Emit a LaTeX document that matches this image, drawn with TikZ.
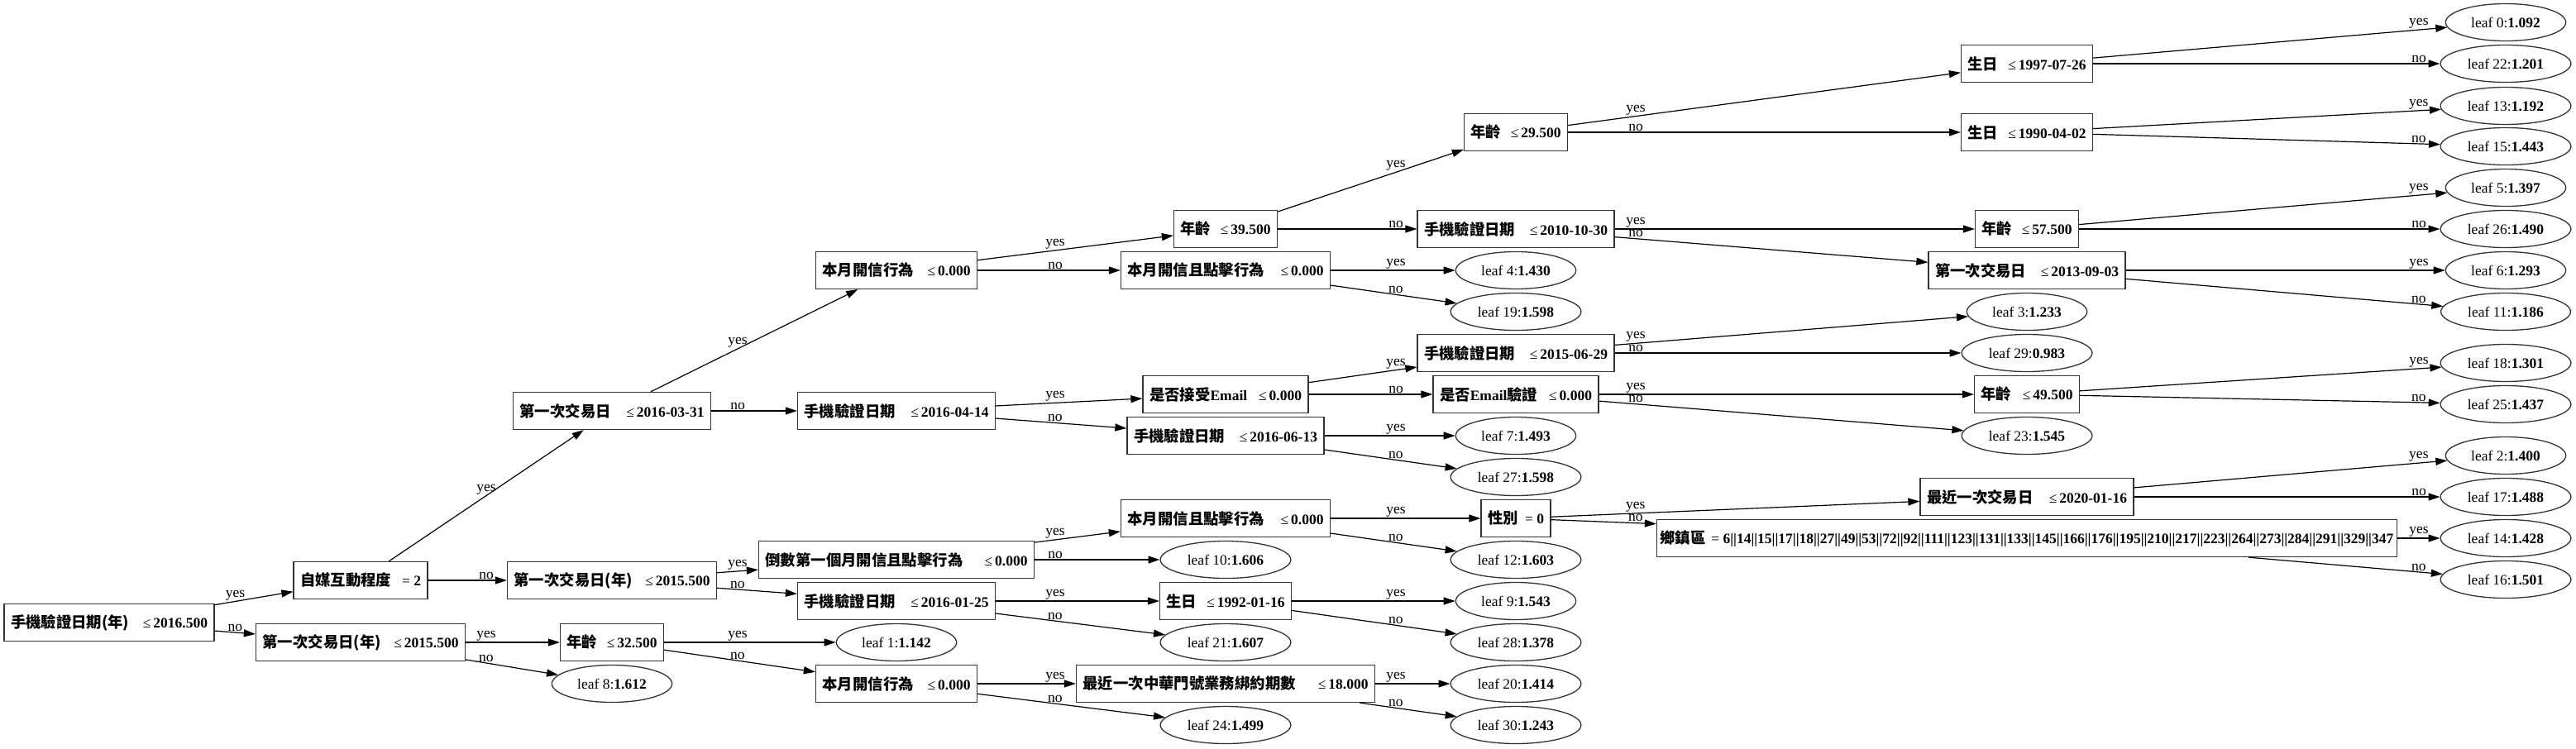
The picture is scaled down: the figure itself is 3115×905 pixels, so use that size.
\documentclass[tikz,border=0pt]{standalone}
\usepackage{fontspec}
\setmainfont{Liberation Serif}
\newfontfamily\cjk{Noto Sans CJK TC}[Scale=1.05]
\usetikzlibrary{arrows.meta,shapes.geometric}
\newcommand\zh[1]{{\cjk\bfseries #1}}
\newcommand\cnd[3]{\makebox[#1pt]{#2\hfill#3}}

\begin{document}
\begin{tikzpicture}[x=1pt, y=-1pt, >={Triangle[length=14pt, width=9pt]},
	every node/.style={font=\fontsize{17.5}{20}\selectfont},
	cond/.style={draw=black!80, line width=1.3pt, rectangle, minimum height=45pt, inner xsep=8pt, inner ysep=0pt},
	leaf/.style={draw=black!80, line width=1.3pt, ellipse, minimum height=45pt, inner xsep=9.6pt, inner ysep=2pt},
	edge/.style={->, line width=1.2pt},
	lbl/.style={anchor=south, inner sep=1pt, draw=none}]
	\useasboundingbox (0,0) rectangle (3115,905);
	% columns where the yes/no labels sit
	\foreach \k/\gx in {0/284.5, 1/588, 2/892, 3/1276, 4/1688, 5/1978, 6/2925} {
		\coordinate (gt\k) at (\gx,0);
		\coordinate (gb\k) at (\gx,905);
	}
	% rank 0 and 1
	\node[cond] (r) at (132,753) {\cnd{238}{\zh{手機驗證日期(年)}}{≤\,\textbf{2016.500}}};
	\node[cond] (a1) at (436,702) {\cnd{146}{\zh{自媒互動程度}}{= \textbf{2}}};
	\node[cond] (a2) at (436,777) {\cnd{237}{\zh{第一次交易日(年)}}{≤\,\textbf{2015.500}}};
	% rank 2
	\node[cond] (b1) at (740,497) {\cnd{223}{\zh{第一次交易日}}{≤\,\textbf{2016-03-31}}};
	\node[cond] (b2) at (740,702) {\cnd{237}{\zh{第一次交易日(年)}}{≤\,\textbf{2015.500}}};
	\node[cond] (b3) at (740,777) {\cnd{109}{\zh{年齡}}{≤\,\textbf{32.500}}};
	\node[leaf] (L8) at (740,827) {leaf 8:\textbf{1.612}};
	% rank 3
	\node[cond] (c1) at (1084,327) {\cnd{179}{\zh{本月開信行為}}{≤\,\textbf{0.000}}};
	\node[cond] (c2) at (1084,497) {\cnd{223}{\zh{手機驗證日期}}{≤\,\textbf{2016-04-14}}};
	\node[cond] (c3) at (1084,677) {\cnd{317}{\zh{倒數第一個月開信且點擊行為}}{≤\,\textbf{0.000}}};
	\node[cond] (c4) at (1084,727) {\cnd{223}{\zh{手機驗證日期}}{≤\,\textbf{2016-01-25}}};
	\node[leaf] (L1) at (1084,777) {leaf 1:\textbf{1.142}};
	\node[cond] (c5) at (1084,827) {\cnd{179}{\zh{本月開信行為}}{≤\,\textbf{0.000}}};
	% rank 4
	\node[cond] (d1) at (1482,277) {\cnd{109}{\zh{年齡}}{≤\,\textbf{39.500}}};
	\node[cond] (d2) at (1482,327) {\cnd{237}{\zh{本月開信且點擊行為}}{≤\,\textbf{0.000}}};
	\node[cond] (d3) at (1482,477) {\cnd{184}{\zh{是否接受}\textbf{Email}}{≤\,\textbf{0.000}}};
	\node[cond] (d4) at (1482,527) {\cnd{222}{\zh{手機驗證日期}}{≤\,\textbf{2016-06-13}}};
	\node[cond] (d5) at (1482,627) {\cnd{237}{\zh{本月開信且點擊行為}}{≤\,\textbf{0.000}}};
	\node[leaf] (L10) at (1482,677) {leaf 10:\textbf{1.606}};
	\node[cond] (d6) at (1482,727) {\cnd{143}{\zh{生日}}{≤\,\textbf{1992-01-16}}};
	\node[leaf] (L21) at (1482,777) {leaf 21:\textbf{1.607}};
	\node[cond] (d7) at (1482,827) {\cnd{345}{\zh{最近一次中華門號業務綁約期數}}{≤\,\textbf{18.000}}};
	\node[leaf] (L24) at (1482,877) {leaf 24:\textbf{1.499}};
	% rank 5
	\node[cond] (e1) at (1833,160) {\cnd{109}{\zh{年齡}}{≤\,\textbf{29.500}}};
	\node[cond] (e2) at (1833,277) {\cnd{222}{\zh{手機驗證日期}}{≤\,\textbf{2010-10-30}}};
	\node[leaf] (L4) at (1833,327) {leaf 4:\textbf{1.430}};
	\node[leaf] (L19) at (1833,377) {leaf 19:\textbf{1.598}};
	\node[cond] (e3) at (1833,427) {\cnd{222}{\zh{手機驗證日期}}{≤\,\textbf{2015-06-29}}};
	\node[cond] (e4) at (1833,477) {\cnd{184}{\zh{是否}\textbf{Email}\zh{驗證}}{≤\,\textbf{0.000}}};
	\node[leaf] (L7) at (1833,527) {leaf 7:\textbf{1.493}};
	\node[leaf] (L27) at (1833,577) {leaf 27:\textbf{1.598}};
	\node[cond] (e5) at (1833,627) {\cnd{68}{\zh{性別}}{= \textbf{0}}};
	\node[leaf] (L12) at (1833,677) {leaf 12:\textbf{1.603}};
	\node[leaf] (L9) at (1833,727) {leaf 9:\textbf{1.543}};
	\node[leaf] (L28) at (1833,777) {leaf 28:\textbf{1.378}};
	\node[leaf] (L20) at (1833,827) {leaf 20:\textbf{1.414}};
	\node[leaf] (L30) at (1833,877) {leaf 30:\textbf{1.243}};
	% rank 6
	\node[cond] (f1) at (2451,77) {\cnd{143}{\zh{生日}}{≤\,\textbf{1997-07-26}}};
	\node[cond] (f2) at (2451,160) {\cnd{143}{\zh{生日}}{≤\,\textbf{1990-04-02}}};
	\node[cond] (f3) at (2451,277) {\cnd{109}{\zh{年齡}}{≤\,\textbf{57.500}}};
	\node[cond] (f4) at (2451,327) {\cnd{222}{\zh{第一次交易日}}{≤\,\textbf{2013-09-03}}};
	\node[leaf] (L3) at (2451,377) {leaf 3:\textbf{1.233}};
	\node[leaf] (L29) at (2451,427) {leaf 29:\textbf{0.983}};
	\node[cond] (f5) at (2451,477) {\cnd{111}{\zh{年齡}}{≤\,\textbf{49.500}}};
	\node[leaf] (L23) at (2451,527) {leaf 23:\textbf{1.545}};
	\node[cond] (f6) at (2451,601) {\cnd{242}{\zh{最近一次交易日}}{≤\,\textbf{2020-01-16}}};
	\node[cond, inner xsep=4pt] (f7) at (2451,651) {\cnd{887}{\zh{鄉鎮區}}{= \textbf{6||14||15||17||18||27||49||53||72||92||111||123||131||133||145||166||176||195||210||217||223||264||273||284||291||329||347}}};
	% rank 7
	\node[leaf] (L0) at (3030,27) {leaf 0:\textbf{1.092}};
	\node[leaf] (L22) at (3030,77) {leaf 22:\textbf{1.201}};
	\node[leaf] (L13) at (3030,128) {leaf 13:\textbf{1.192}};
	\node[leaf] (L15) at (3030,177) {leaf 15:\textbf{1.443}};
	\node[leaf] (L5) at (3030,227) {leaf 5:\textbf{1.397}};
	\node[leaf] (L26) at (3030,277) {leaf 26:\textbf{1.490}};
	\node[leaf] (L6) at (3030,327) {leaf 6:\textbf{1.293}};
	\node[leaf] (L11) at (3030,377) {leaf 11:\textbf{1.186}};
	\node[leaf] (L18) at (3030,439) {leaf 18:\textbf{1.301}};
	\node[leaf] (L25) at (3030,489) {leaf 25:\textbf{1.437}};
	\node[leaf] (L2) at (3030,551) {leaf 2:\textbf{1.400}};
	\node[leaf] (L17) at (3030,601) {leaf 17:\textbf{1.488}};
	\node[leaf] (L14) at (3030,651) {leaf 14:\textbf{1.428}};
	\node[leaf] (L16) at (3030,701) {leaf 16:\textbf{1.501}};
	% branches
	\draw[edge] (r) -- (a1) node[lbl, at={(intersection of r--a1 and gt0--gb0)}] (r-a1) {yes};
	\draw[edge] (r) -- (a2) node[lbl, at={(intersection of r--a2 and gt0--gb0)}] (r-a2) {no};
	\draw[edge] (a1) -- (b1) node[lbl, at={(intersection of a1--b1 and gt1--gb1)}] (a1-b1) {yes};
	\draw[edge] (a1) -- (b2) node[lbl, at={(intersection of a1--b2 and gt1--gb1)}] (a1-b2) {no};
	\draw[edge] (a2) -- (b3) node[lbl, at={(intersection of a2--b3 and gt1--gb1)}] (a2-b3) {yes};
	\draw[edge] (a2) -- (L8) node[lbl, at={(intersection of a2--L8 and gt1--gb1)}] (a2-L8) {no};
	\draw[edge] (b1) -- (c1) node[lbl, at={(intersection of b1--c1 and gt2--gb2)}] (b1-c1) {yes};
	\draw[edge] (b1) -- (c2) node[lbl, at={(intersection of b1--c2 and gt2--gb2)}] (b1-c2) {no};
	\draw[edge] (b2) -- (c3) node[lbl, at={(intersection of b2--c3 and gt2--gb2)}] (b2-c3) {yes};
	\draw[edge] (b2) -- (c4) node[lbl, at={(intersection of b2--c4 and gt2--gb2)}] (b2-c4) {no};
	\draw[edge] (b3) -- (L1) node[lbl, at={(intersection of b3--L1 and gt2--gb2)}] (b3-L1) {yes};
	\draw[edge] (b3) -- (c5) node[lbl, at={(intersection of b3--c5 and gt2--gb2)}] (b3-c5) {no};
	\draw[edge] (c1) -- (d1) node[lbl, at={(intersection of c1--d1 and gt3--gb3)}] (c1-d1) {yes};
	\draw[edge] (c1) -- (d2) node[lbl, at={(intersection of c1--d2 and gt3--gb3)}] (c1-d2) {no};
	\draw[edge] (c2) -- (d3) node[lbl, at={(intersection of c2--d3 and gt3--gb3)}] (c2-d3) {yes};
	\draw[edge] (c2) -- (d4) node[lbl, at={(intersection of c2--d4 and gt3--gb3)}] (c2-d4) {no};
	\draw[edge] (c3) -- (d5) node[lbl, at={(intersection of c3--d5 and gt3--gb3)}] (c3-d5) {yes};
	\draw[edge] (c3) -- (L10) node[lbl, at={(intersection of c3--L10 and gt3--gb3)}] (c3-L10) {no};
	\draw[edge] (c4) -- (d6) node[lbl, at={(intersection of c4--d6 and gt3--gb3)}] (c4-d6) {yes};
	\draw[edge] (c4) -- (L21) node[lbl, at={(intersection of c4--L21 and gt3--gb3)}] (c4-L21) {no};
	\draw[edge] (c5) -- (d7) node[lbl, at={(intersection of c5--d7 and gt3--gb3)}] (c5-d7) {yes};
	\draw[edge] (c5) -- (L24) node[lbl, at={(intersection of c5--L24 and gt3--gb3)}] (c5-L24) {no};
	\draw[edge] (d1) -- (e1) node[lbl, at={(intersection of d1--e1 and gt4--gb4)}] (d1-e1) {yes};
	\draw[edge] (d1) -- (e2) node[lbl, at={(intersection of d1--e2 and gt4--gb4)}] (d1-e2) {no};
	\draw[edge] (d2) -- (L4) node[lbl, at={(intersection of d2--L4 and gt4--gb4)}] (d2-L4) {yes};
	\draw[edge] (d2) -- (L19) node[lbl, at={(intersection of d2--L19 and gt4--gb4)}] (d2-L19) {no};
	\draw[edge] (d3) -- (e3) node[lbl, at={(intersection of d3--e3 and gt4--gb4)}] (d3-e3) {yes};
	\draw[edge] (d3) -- (e4) node[lbl, at={(intersection of d3--e4 and gt4--gb4)}] (d3-e4) {no};
	\draw[edge] (d4) -- (L7) node[lbl, at={(intersection of d4--L7 and gt4--gb4)}] (d4-L7) {yes};
	\draw[edge] (d4) -- (L27) node[lbl, at={(intersection of d4--L27 and gt4--gb4)}] (d4-L27) {no};
	\draw[edge] (d5) -- (e5) node[lbl, at={(intersection of d5--e5 and gt4--gb4)}] (d5-e5) {yes};
	\draw[edge] (d5) -- (L12) node[lbl, at={(intersection of d5--L12 and gt4--gb4)}] (d5-L12) {no};
	\draw[edge] (d6) -- (L9) node[lbl, at={(intersection of d6--L9 and gt4--gb4)}] (d6-L9) {yes};
	\draw[edge] (d6) -- (L28) node[lbl, at={(intersection of d6--L28 and gt4--gb4)}] (d6-L28) {no};
	\draw[edge] (d7) -- (L20) node[lbl, at={(intersection of d7--L20 and gt4--gb4)}] (d7-L20) {yes};
	\draw[edge] (d7) -- (L30) node[lbl, at={(intersection of d7--L30 and gt4--gb4)}] (d7-L30) {no};
	\draw[edge] (e1) -- (f1) node[lbl, at={(intersection of e1--f1 and gt5--gb5)}] (e1-f1) {yes};
	\draw[edge] (e1) -- (f2) node[lbl, at={(intersection of e1--f2 and gt5--gb5)}] (e1-f2) {no};
	\draw[edge] (e2) -- (f3) node[lbl, at={(intersection of e2--f3 and gt5--gb5)}] (e2-f3) {yes};
	\draw[edge] (e2) -- (f4) node[lbl, at={(intersection of e2--f4 and gt5--gb5)}] (e2-f4) {no};
	\draw[edge] (e3) -- (L3) node[lbl, at={(intersection of e3--L3 and gt5--gb5)}] (e3-L3) {yes};
	\draw[edge] (e3) -- (L29) node[lbl, at={(intersection of e3--L29 and gt5--gb5)}] (e3-L29) {no};
	\draw[edge] (e4) -- (f5) node[lbl, at={(intersection of e4--f5 and gt5--gb5)}] (e4-f5) {yes};
	\draw[edge] (e4) -- (L23) node[lbl, at={(intersection of e4--L23 and gt5--gb5)}] (e4-L23) {no};
	\draw[edge] (e5) -- (f6) node[lbl, at={(intersection of e5--f6 and gt5--gb5)}] (e5-f6) {yes};
	\draw[edge] (e5) -- (f7) node[lbl, at={(intersection of e5--f7 and gt5--gb5)}] (e5-f7) {no};
	\draw[edge] (f1) -- (L0) node[lbl, at={(intersection of f1--L0 and gt6--gb6)}] (f1-L0) {yes};
	\draw[edge] (f1) -- (L22) node[lbl, at={(intersection of f1--L22 and gt6--gb6)}] (f1-L22) {no};
	\draw[edge] (f2) -- (L13) node[lbl, at={(intersection of f2--L13 and gt6--gb6)}] (f2-L13) {yes};
	\draw[edge] (f2) -- (L15) node[lbl, at={(intersection of f2--L15 and gt6--gb6)}] (f2-L15) {no};
	\draw[edge] (f3) -- (L5) node[lbl, at={(intersection of f3--L5 and gt6--gb6)}] (f3-L5) {yes};
	\draw[edge] (f3) -- (L26) node[lbl, at={(intersection of f3--L26 and gt6--gb6)}] (f3-L26) {no};
	\draw[edge] (f4) -- (L6) node[lbl, at={(intersection of f4--L6 and gt6--gb6)}] (f4-L6) {yes};
	\draw[edge] (f4) -- (L11) node[lbl, at={(intersection of f4--L11 and gt6--gb6)}] (f4-L11) {no};
	\draw[edge] (f5) -- (L18) node[lbl, at={(intersection of f5--L18 and gt6--gb6)}] (f5-L18) {yes};
	\draw[edge] (f5) -- (L25) node[lbl, at={(intersection of f5--L25 and gt6--gb6)}] (f5-L25) {no};
	\draw[edge] (f6) -- (L2) node[lbl, at={(intersection of f6--L2 and gt6--gb6)}] (f6-L2) {yes};
	\draw[edge] (f6) -- (L17) node[lbl, at={(intersection of f6--L17 and gt6--gb6)}] (f6-L17) {no};
	\draw[edge] (f7) -- (L14) node[lbl, at={(intersection of f7--L14 and gt6--gb6)}] (f7-L14) {yes};
	\draw[edge] (f7) -- (L16) node[lbl, at={(intersection of f7--L16 and gt6--gb6)}] (f7-L16) {no};
\end{tikzpicture}
\end{document}
